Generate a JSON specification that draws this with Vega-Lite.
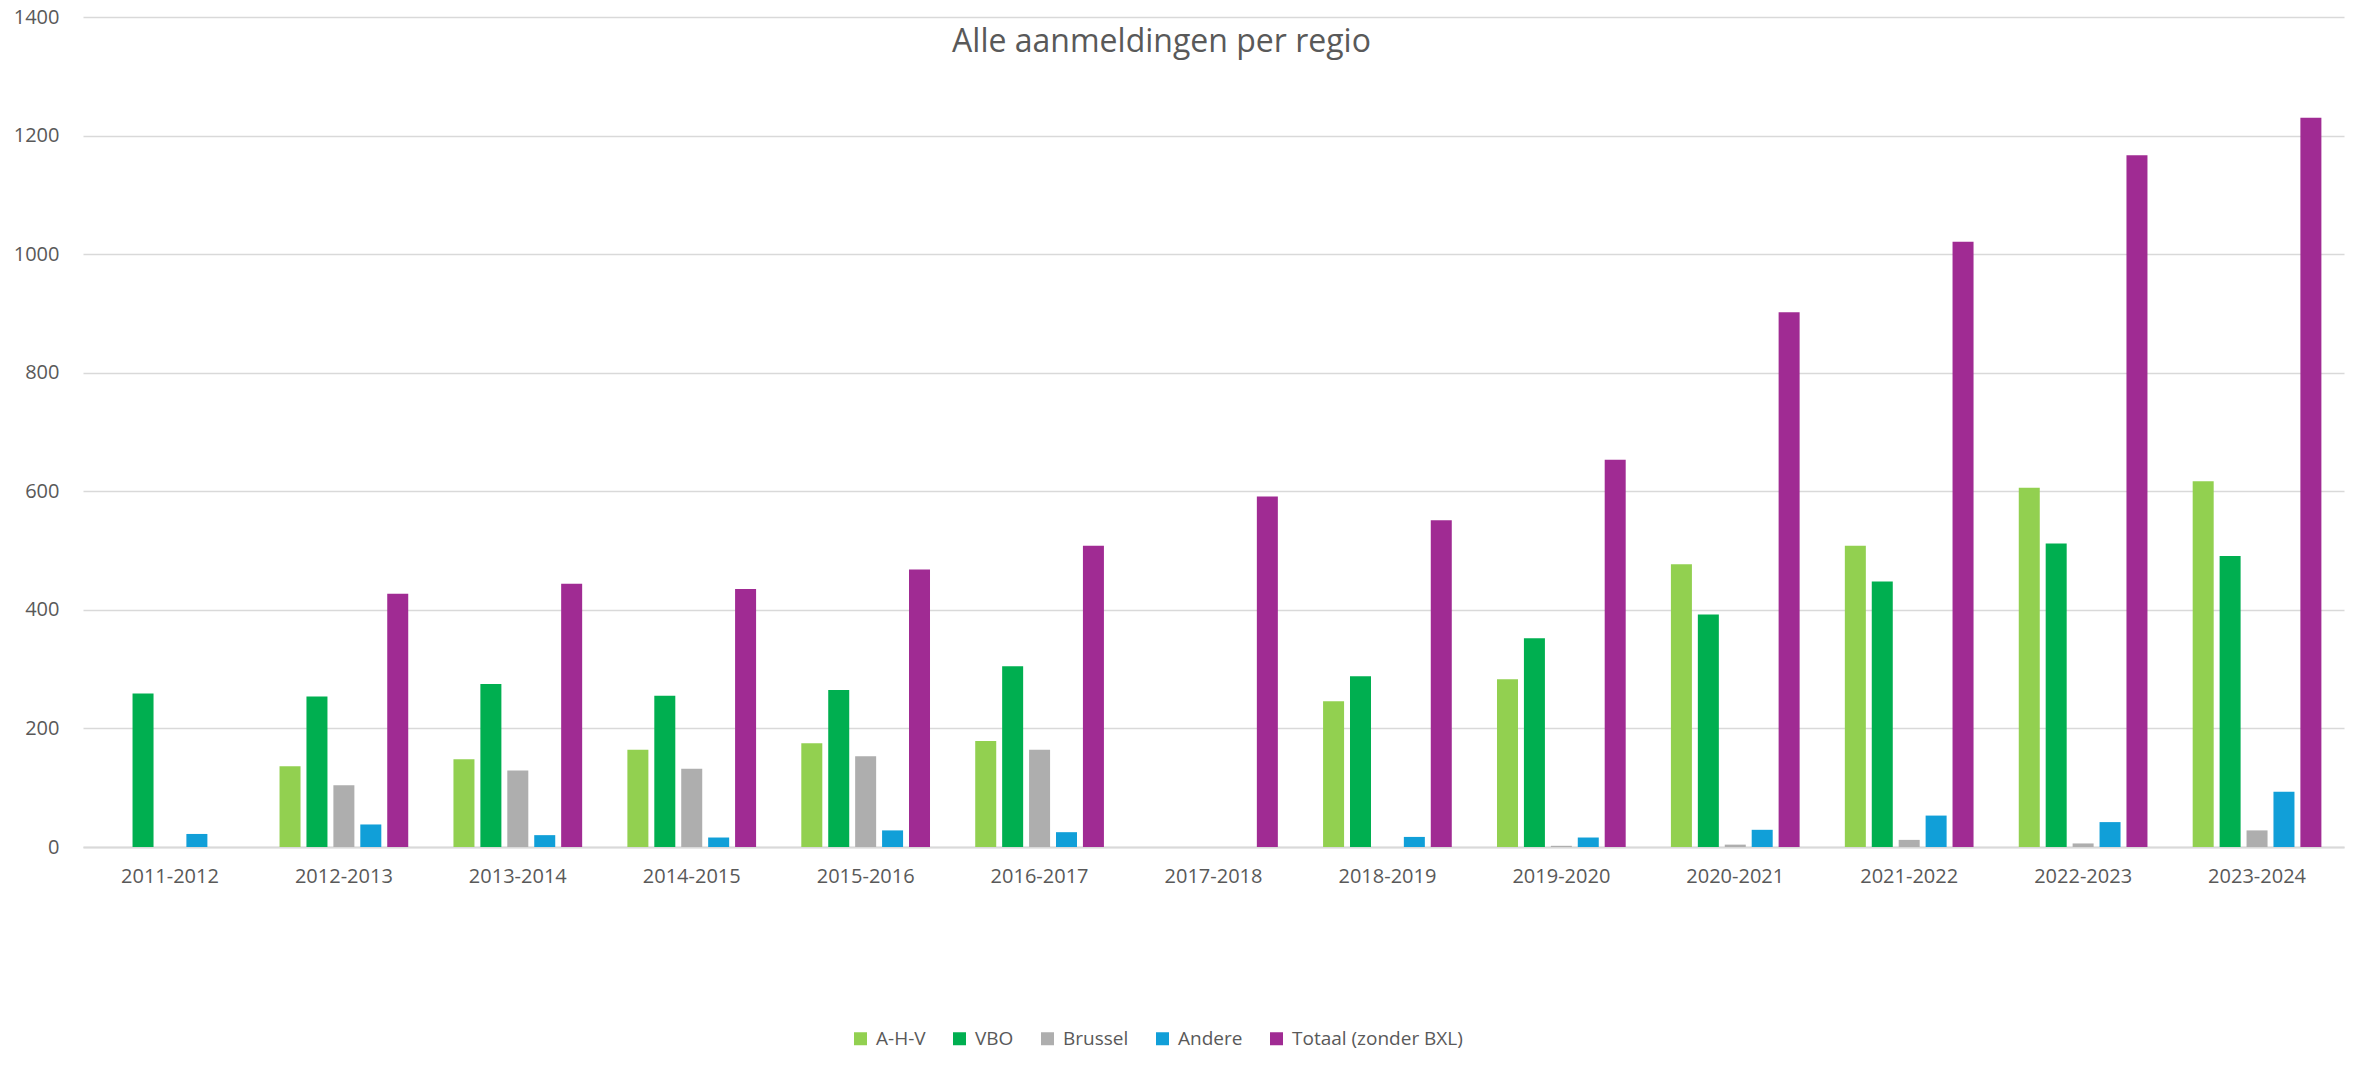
{
  "$schema": "https://vega.github.io/schema/vega-lite/v6.json",
  "width": 2261,
  "height": 830,
  "autosize": {"type": "none"},
  "padding": {"left": 83, "top": 17, "right": 35, "bottom": 221},
  "background": "white",
  "title": {
    "text": "Alle aanmeldingen per regio",
    "anchor": "middle",
    "frame": "group",
    "orient": "top",
    "baseline": "alphabetic",
    "offset": -36,
    "dy": 41,
    "dx": -52,
    "font": "Open Sans",
    "fontSize": 32,
    "fontWeight": "normal",
    "color": "#595959"
  },
  "data": {
    "values": [
      {"jaar": "2011-2012", "regio": "VBO", "n": 259},
      {"jaar": "2011-2012", "regio": "Andere", "n": 22},
      {"jaar": "2012-2013", "regio": "A-H-V", "n": 136},
      {"jaar": "2012-2013", "regio": "VBO", "n": 254},
      {"jaar": "2012-2013", "regio": "Brussel", "n": 104},
      {"jaar": "2012-2013", "regio": "Andere", "n": 38},
      {"jaar": "2012-2013", "regio": "Totaal (zonder BXL)", "n": 427},
      {"jaar": "2013-2014", "regio": "A-H-V", "n": 148},
      {"jaar": "2013-2014", "regio": "VBO", "n": 275},
      {"jaar": "2013-2014", "regio": "Brussel", "n": 129},
      {"jaar": "2013-2014", "regio": "Andere", "n": 20},
      {"jaar": "2013-2014", "regio": "Totaal (zonder BXL)", "n": 444},
      {"jaar": "2014-2015", "regio": "A-H-V", "n": 164},
      {"jaar": "2014-2015", "regio": "VBO", "n": 255},
      {"jaar": "2014-2015", "regio": "Brussel", "n": 132},
      {"jaar": "2014-2015", "regio": "Andere", "n": 16},
      {"jaar": "2014-2015", "regio": "Totaal (zonder BXL)", "n": 435},
      {"jaar": "2015-2016", "regio": "A-H-V", "n": 175},
      {"jaar": "2015-2016", "regio": "VBO", "n": 265},
      {"jaar": "2015-2016", "regio": "Brussel", "n": 153},
      {"jaar": "2015-2016", "regio": "Andere", "n": 28},
      {"jaar": "2015-2016", "regio": "Totaal (zonder BXL)", "n": 468},
      {"jaar": "2016-2017", "regio": "A-H-V", "n": 179},
      {"jaar": "2016-2017", "regio": "VBO", "n": 305},
      {"jaar": "2016-2017", "regio": "Brussel", "n": 164},
      {"jaar": "2016-2017", "regio": "Andere", "n": 25},
      {"jaar": "2016-2017", "regio": "Totaal (zonder BXL)", "n": 508},
      {"jaar": "2017-2018", "regio": "Totaal (zonder BXL)", "n": 591},
      {"jaar": "2018-2019", "regio": "A-H-V", "n": 246},
      {"jaar": "2018-2019", "regio": "VBO", "n": 288},
      {"jaar": "2018-2019", "regio": "Andere", "n": 17},
      {"jaar": "2018-2019", "regio": "Totaal (zonder BXL)", "n": 551},
      {"jaar": "2019-2020", "regio": "A-H-V", "n": 283},
      {"jaar": "2019-2020", "regio": "VBO", "n": 352},
      {"jaar": "2019-2020", "regio": "Brussel", "n": 2},
      {"jaar": "2019-2020", "regio": "Andere", "n": 16},
      {"jaar": "2019-2020", "regio": "Totaal (zonder BXL)", "n": 653},
      {"jaar": "2020-2021", "regio": "A-H-V", "n": 477},
      {"jaar": "2020-2021", "regio": "VBO", "n": 392},
      {"jaar": "2020-2021", "regio": "Brussel", "n": 4},
      {"jaar": "2020-2021", "regio": "Andere", "n": 29},
      {"jaar": "2020-2021", "regio": "Totaal (zonder BXL)", "n": 902},
      {"jaar": "2021-2022", "regio": "A-H-V", "n": 508},
      {"jaar": "2021-2022", "regio": "VBO", "n": 448},
      {"jaar": "2021-2022", "regio": "Brussel", "n": 12},
      {"jaar": "2021-2022", "regio": "Andere", "n": 53},
      {"jaar": "2021-2022", "regio": "Totaal (zonder BXL)", "n": 1021},
      {"jaar": "2022-2023", "regio": "A-H-V", "n": 606},
      {"jaar": "2022-2023", "regio": "VBO", "n": 512},
      {"jaar": "2022-2023", "regio": "Brussel", "n": 6},
      {"jaar": "2022-2023", "regio": "Andere", "n": 42},
      {"jaar": "2022-2023", "regio": "Totaal (zonder BXL)", "n": 1167},
      {"jaar": "2023-2024", "regio": "A-H-V", "n": 617},
      {"jaar": "2023-2024", "regio": "VBO", "n": 491},
      {"jaar": "2023-2024", "regio": "Brussel", "n": 28},
      {"jaar": "2023-2024", "regio": "Andere", "n": 93},
      {"jaar": "2023-2024", "regio": "Totaal (zonder BXL)", "n": 1230}
    ]
  },
  "mark": {"type": "bar"},
  "encoding": {
    "x": {
      "field": "jaar",
      "type": "nominal",
      "scale": {
        "domain": ["2011-2012", "2012-2013", "2013-2014", "2014-2015", "2015-2016", "2016-2017", "2017-2018", "2018-2019", "2019-2020", "2020-2021", "2021-2022", "2022-2023", "2023-2024"],
        "paddingInner": 0.26,
        "paddingOuter": 0.13
      },
      "axis": {
        "title": null,
        "labelAngle": 0,
        "ticks": false,
        "domain": true,
        "domainColor": "#D9D9D9",
        "domainWidth": 2,
        "grid": false,
        "labelFont": "Open Sans",
        "labelFontSize": 20,
        "labelColor": "#595959",
        "labelPadding": 19
      }
    },
    "xOffset": {
      "field": "regio",
      "type": "nominal",
      "scale": {
        "domain": ["A-H-V", "VBO", "Brussel", "Andere", "Totaal (zonder BXL)"],
        "paddingInner": 0.22,
        "paddingOuter": 0
      }
    },
    "y": {
      "field": "n",
      "type": "quantitative",
      "scale": {"domain": [0, 1400], "nice": false},
      "axis": {
        "title": null,
        "values": [0, 200, 400, 600, 800, 1000, 1200, 1400],
        "format": "d",
        "grid": true,
        "gridColor": "#D9D9D9",
        "gridWidth": 1.5,
        "domain": false,
        "ticks": false,
        "labelFont": "Open Sans",
        "labelFontSize": 20,
        "labelColor": "#595959",
        "labelPadding": 24
      }
    },
    "color": {
      "field": "regio",
      "type": "nominal",
      "scale": {
        "domain": ["A-H-V", "VBO", "Brussel", "Andere", "Totaal (zonder BXL)"],
        "range": ["#92D050", "#00AF50", "#AEAEAE", "#119FD8", "#A02B93"]
      },
      "legend": {
        "title": null,
        "orient": "none",
        "legendX": 768,
        "legendY": 1012,
        "direction": "horizontal",
        "columns": 5,
        "symbolType": "square",
        "symbolSize": 169,
        "symbolStrokeWidth": 0,
        "labelFont": "Open Sans",
        "labelFontSize": 19,
        "labelColor": "#595959",
        "labelOffset": 6,
        "labelLimit": 400,
        "columnPadding": 24
      }
    }
  },
  "config": {
    "view": {"stroke": null}
  }
}
